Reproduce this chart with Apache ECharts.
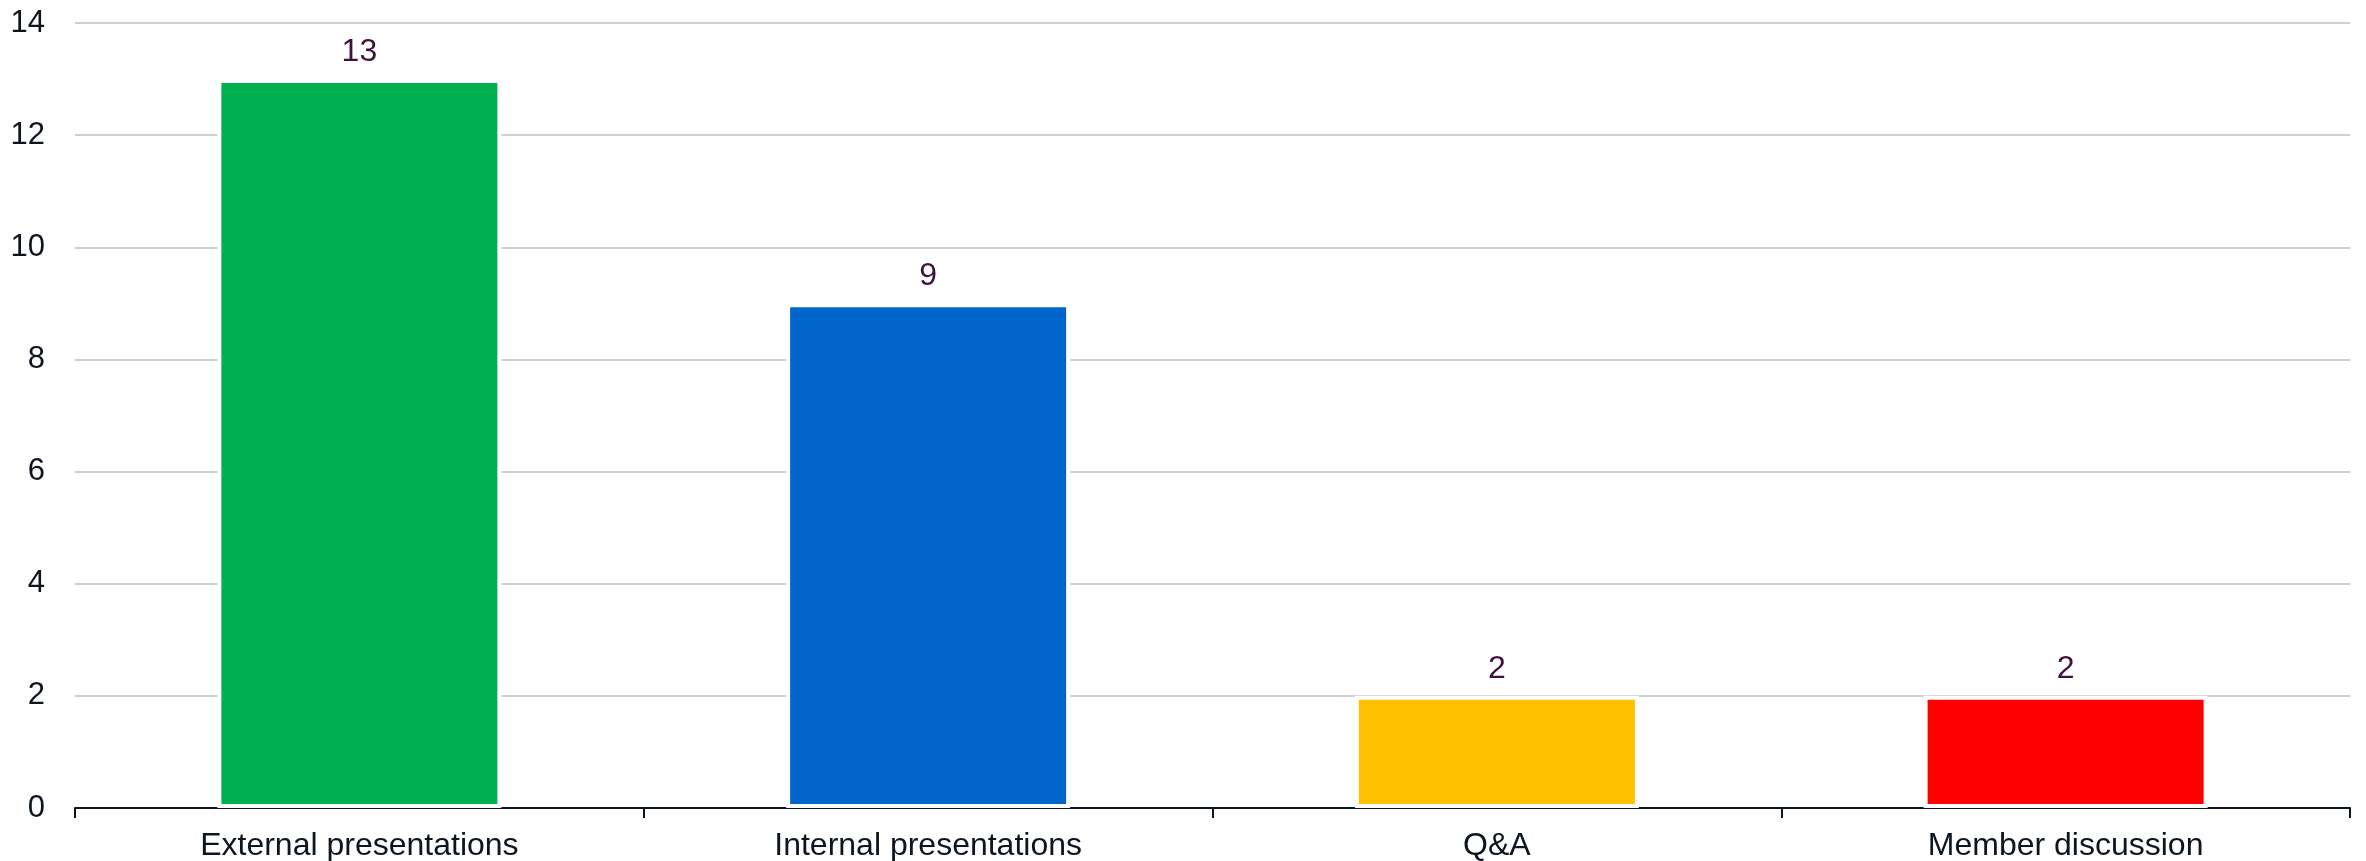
<!doctype html>
<html>
    <head>
        <meta charset="utf-8">
        <style>
            html, body { margin: 0; padding: 0; background: #fff; }
            #main { width: 2366px; height: 861px; }
        </style>
    </head>
    <body>
        <div id="main"></div>
        <script src="https://cdn.jsdelivr.net/npm/echarts@6/dist/echarts.min.js"></script>
        <script>
            var categories = ['External presentations', 'Internal presentations', 'Q&A', 'Member discussion'];
            var values = [13, 9, 2, 2];
            var barColors = ['#00b050', '#0066cc', '#ffc000', '#ff0000'];
            var yTicks = [0, 2, 4, 6, 8, 10, 12, 14];

            var chart = echarts.init(document.getElementById('main'));

            var font = 'Liberation Sans, Arial, sans-serif';

            chart.setOption({
                animation: false,
                grid: {
                    left: 75,
                    right: 16,
                    top: 23,
                    bottom: 53,
                    containLabel: false,
                    outerBoundsMode: 'none'
                },
                xAxis: {
                    type: 'category',
                    data: categories,
                    axisLine: {
                        lineStyle: { color: '#0d1520', width: 2 }
                    },
                    axisTick: {
                        show: true,
                        length: 10,
                        lineStyle: { color: '#0d1520', width: 2 }
                    },
                    axisLabel: {
                        color: '#0d1520',
                        fontSize: 32,
                        fontFamily: font,
                        margin: 22
                    }
                },
                yAxis: {
                    type: 'value',
                    min: yTicks[0],
                    max: yTicks[yTicks.length - 1],
                    interval: yTicks[1] - yTicks[0],
                    axisLine: { show: false },
                    axisTick: { show: false },
                    splitLine: {
                        lineStyle: { color: '#bfbfbf', width: 1.5 }
                    },
                    axisLabel: {
                        color: '#0d1520',
                        fontSize: 31,
                        fontFamily: font,
                        margin: 30
                    }
                },
                series: [{
                    type: 'bar',
                    barWidth: 284,
                    data: values.map(function (v, i) {
                        return {
                            value: v,
                            itemStyle: { color: barColors[i] }
                        };
                    }),
                    itemStyle: {
                        borderColor: '#ffffff',
                        borderWidth: 4
                    },
                    label: {
                        show: true,
                        position: 'top',
                        distance: 11,
                        color: '#40103f',
                        fontSize: 32,
                        fontFamily: font
                    }
                }]
            });

            window.onresize = chart.resize;
        </script>
    </body>
</html>
